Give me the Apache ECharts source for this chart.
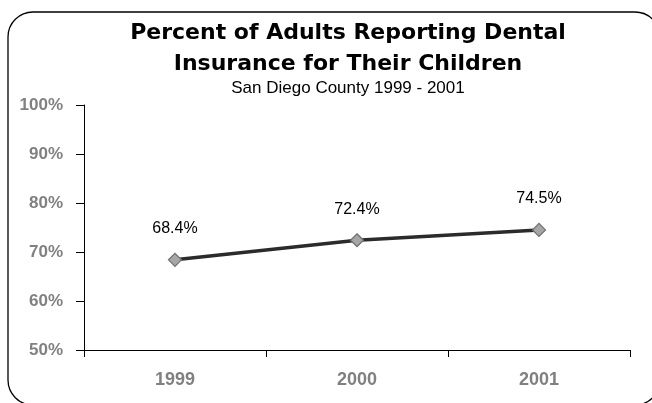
<!DOCTYPE html>
<html>
<head>
<meta charset="utf-8">
<script src="https://cdn.jsdelivr.net/npm/echarts@6/dist/echarts.min.js"></script>
<style>
  html, body { margin: 0; padding: 0; background: #ffffff; }
  #chart { width: 652px; height: 403px; }
</style>
</head>
<body>
<div id="chart"></div>
<script>
// Survey years and share of adults reporting dental insurance for their children
var years = ['1999', '2000', '2001'];
var insuredPct = [68.4, 72.4, 74.5];
var yTicks = [50, 60, 70, 80, 90, 100];

var titleLines = ['Percent of Adults Reporting Dental', 'Insurance for Their Children'];
var subtitleText = 'San Diego County 1999 - 2001';

var chart = echarts.init(document.getElementById('chart'), null, { renderer: 'canvas' });

var axisGray = '#808080';
var labelFont = 'Liberation Sans Narrow, Arial Narrow, Liberation Sans, Arial, sans-serif';

chart.setOption({
  animation: false,
  backgroundColor: '#ffffff',
  title: {
    text: titleLines.join('\n'),
    subtext: subtitleText,
    left: 343,
    top: 13,
    textAlign: 'center',
    itemGap: 0,
    textStyle: {
      fontFamily: 'DejaVu Sans, sans-serif',
      fontWeight: 'bold',
      fontSize: 22,
      lineHeight: 31,
      color: '#000000'
    },
    subtextStyle: {
      fontFamily: 'Liberation Sans, Arial, sans-serif',
      fontSize: 17,
      color: '#000000'
    }
  },
  graphic: [{
    type: 'rect',
    shape: { x: 8, y: 12, width: 652, height: 393, r: 25 },
    style: { fill: 'none', stroke: '#000000', lineWidth: 1.3 },
    silent: true,
    z: -1
  }],
  grid: { left: 84, right: 22, top: 105, bottom: 53 },
  xAxis: {
    type: 'category',
    data: years,
    boundaryGap: true,
    axisLine: { lineStyle: { color: '#000000', width: 1 } },
    axisTick: { show: true, length: 7, alignWithLabel: false, lineStyle: { color: '#000000' } },
    axisLabel: {
      margin: 21,
      fontFamily: labelFont,
      fontWeight: 'bold',
      fontSize: 18,
      color: axisGray
    },
    splitLine: { show: false }
  },
  yAxis: {
    type: 'value',
    min: yTicks[0],
    max: yTicks[yTicks.length - 1],
    interval: 10,
    axisLine: { show: true, lineStyle: { color: '#000000', width: 1 } },
    axisTick: { show: true, length: 8, lineStyle: { color: '#000000' } },
    axisLabel: {
      margin: 21,
      fontFamily: labelFont,
      fontWeight: 'bold',
      fontSize: 17,
      color: axisGray,
      formatter: '{value}%'
    },
    splitLine: { show: false }
  },
  series: [{
    type: 'line',
    data: insuredPct,
    symbol: 'diamond',
    symbolSize: 13,
    lineStyle: { color: '#2b2b2b', width: 3.5 },
    itemStyle: { color: '#A6A6A6', borderColor: '#6E6E6E', borderWidth: 1.2 },
    label: {
      show: true,
      position: 'top',
      distance: 16,
      fontFamily: 'Liberation Sans, Arial, sans-serif',
      fontSize: 16,
      color: '#000000',
      formatter: function (p) { return p.value.toFixed(1) + '%'; }
    },
    z: 3
  }]
});
</script>
</body>
</html>
